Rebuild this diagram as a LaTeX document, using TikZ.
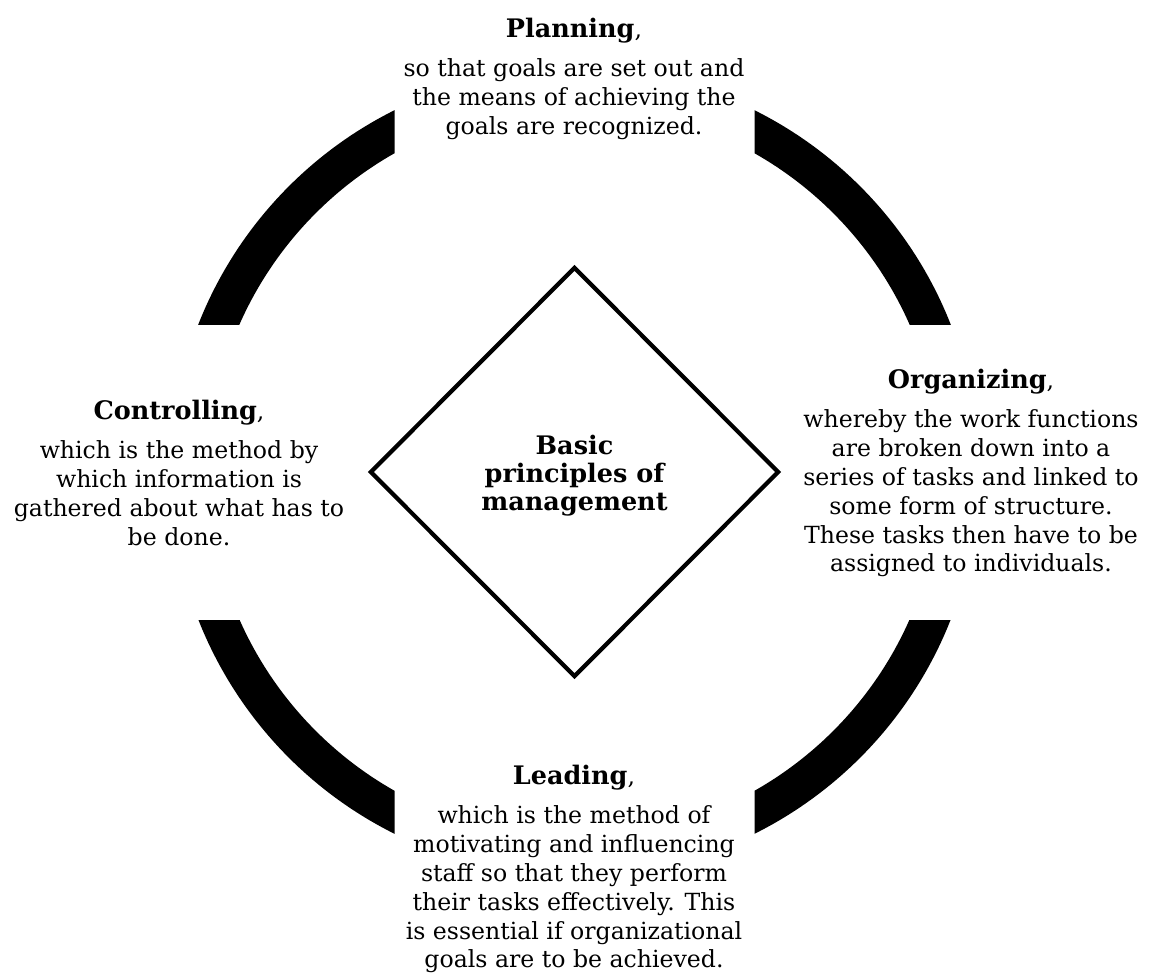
\documentclass[tikz,border=0pt]{standalone}
\usepackage{fontspec}
\setmainfont{DejaVu Serif}
\usetikzlibrary{shapes.geometric}
\definecolor{ringblack}{RGB}{0, 0, 0}
\newcommand{\fnhead}[1]{{\fontsize{25.5}{28.8}\selectfont\bfseries #1}}

\begin{document}
\begin{tikzpicture}[x=1pt, y=-1pt,
  font=\fontsize{23.6}{28.8}\selectfont,
  textblock/.style={align=center, inner sep=0pt, anchor=north}]

\useasboundingbox (0,0) rectangle (1150,972);

% ============================================================
%  Broken ring  --  four thick quarter arcs
% ============================================================

% hub at (574.5, 472), outer radius 404, inner radius 366
% gaps: |x - 574.5| < 180 and |y - 472| < 148
\coordinate (hub) at (574.5, 472);
\foreach \sx/\sy in {-1/-1, 1/-1, 1/1, -1/1} {
  \begin{scope}
    \clip (\sx*180+574.5, \sy*148+472) rectangle (\sx*420+574.5, \sy*420+472);
    \fill[ringblack, even odd rule] (hub) circle[radius=404pt] (hub) circle[radius=366pt];
  \end{scope}
}

% ============================================================
%  Centre diamond
% ============================================================
\node[diamond, draw, line width=4.2pt, minimum width=409pt, minimum height=410pt]
  (core) at (hub) {};
\node[align=center, inner sep=0pt, font=\fontsize{25.5}{28}\selectfont\bfseries]
  (corelabel) at (574.5, 476) {Basic\\principles of\\management};

% ============================================================
%  The four functions
% ============================================================
\node[textblock] (planning) at (574, 17.5)
  {\fnhead{Planning},\\[11pt]
   so that goals are set out and\\
   the means of achieving the\\
   goals are recognized.};

\node[textblock] (organizing) at (971, 368.5)
  {\fnhead{Organizing},\\[11pt]
   whereby the work functions\\
   are broken down into a\\
   series of tasks and linked to\\
   some form of structure.\\
   These tasks then have to be\\
   assigned to individuals.};

\node[textblock] (leading) at (574, 764.5)
  {\fnhead{Leading},\\[11pt]
   which is the method of\\
   motivating and influencing\\
   staff so that they perform\\
   their tasks effectively. This\\
   is essential if organizational\\
   goals are to be achieved.};

\node[textblock] (controlling) at (179, 399.5)
  {\fnhead{Controlling},\\[11pt]
   which is the method by\\
   which information is\\
   gathered about what has to\\
   be done.};

\end{tikzpicture}
\end{document}
